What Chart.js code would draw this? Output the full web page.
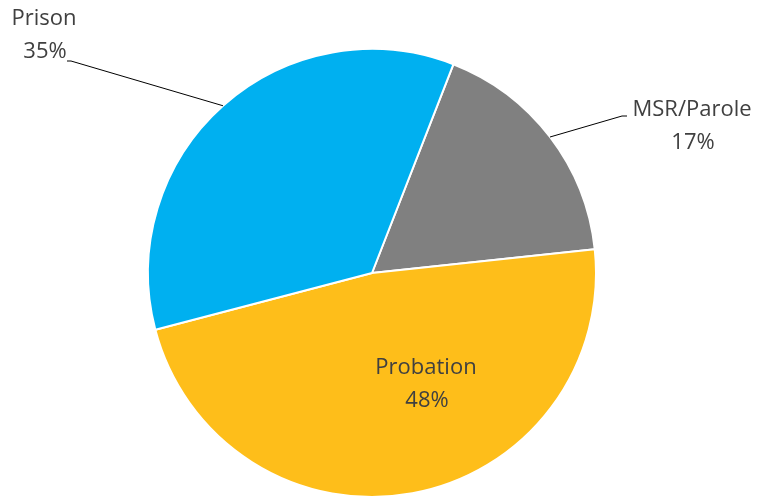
<!DOCTYPE html>
<html>
<head>
<meta charset="utf-8">
<script src="https://cdn.jsdelivr.net/npm/chart.js@4.4.0/dist/chart.umd.min.js"></script>
<style>
  html, body { margin: 0; padding: 0; background: #fff; }
  #wrap { width: 759px; height: 499px; }
</style>
</head>
<body>
<div id="wrap"><canvas id="pie" width="759" height="499"></canvas></div>
<script>
// data (slice sizes, labels show rounded share)
const categories = ['MSR/Parole', 'Probation', 'Prison'];
const shares = [17.4, 47.6, 35.0];
const sliceColors = ['#808080', '#FEBE1A', '#00B0F0'];

// text centre of each label, and the elbow of its leader line if it has one
const labelSpots = [
    { x: 692, y: 110, elbow: [622, 116], tail: 627 },
    { x: 426, y: 368, elbow: null },
    { x: 44, y: 19, elbow: [71, 61], tail: 67 }
];

const labelPlugin = {
    id: 'pieLabels',
    afterDatasetsDraw(chart) {
        const ctx = chart.ctx;
        const arcs = chart.getDatasetMeta(0).data;
        const total = shares.reduce((a, b) => a + b, 0);
        ctx.save();
        ctx.font = '22px "Open Sans", sans-serif';
        ctx.fillStyle = '#404040';
        ctx.textAlign = 'center';
        ctx.textBaseline = 'middle';
        arcs.forEach((arc, i) => {
            const spot = labelSpots[i];
            if (spot.elbow) {
                const mid = (arc.startAngle + arc.endAngle) / 2;
                const sx = arc.x + Math.cos(mid) * arc.outerRadius;
                const sy = arc.y + Math.sin(mid) * arc.outerRadius;
                ctx.strokeStyle = '#000';
                ctx.lineWidth = 1;
                ctx.beginPath();
                ctx.moveTo(sx, sy);
                ctx.lineTo(spot.elbow[0], spot.elbow[1]);
                ctx.lineTo(spot.tail, spot.elbow[1]);
                ctx.stroke();
            }
            const pct = Math.round(shares[i] / total * 100);
            ctx.fillText(categories[i], spot.x, spot.y);
            ctx.fillText(pct + '%', spot.x + 1, spot.y + 33);
        });
        ctx.restore();
    }
};

new Chart(document.getElementById('pie'), {
    type: 'pie',
    data: {
        labels: categories,
        datasets: [{
            data: shares,
            backgroundColor: sliceColors,
            borderColor: '#ffffff',
            borderWidth: 2
        }]
    },
    options: {
        responsive: false,
        animation: false,
        rotation: 21.3,
        layout: { padding: { top: 48, bottom: 1, left: 0, right: 15 } },
        plugins: {
            legend: { display: false },
            tooltip: { enabled: false }
        }
    },
    plugins: [labelPlugin]
});
</script>
</body>
</html>
